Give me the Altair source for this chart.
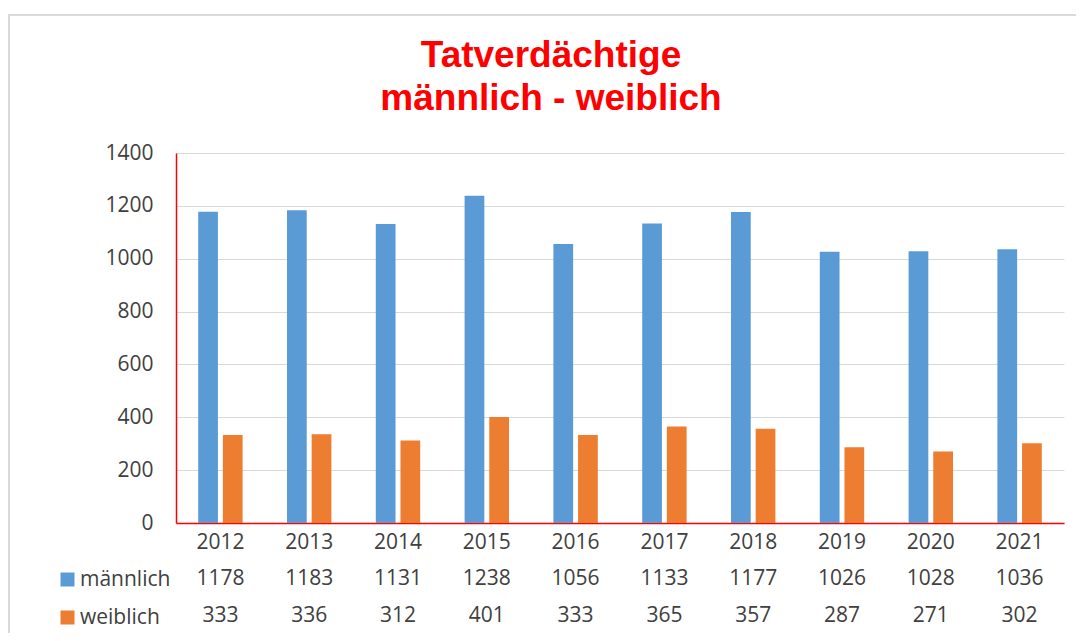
import altair as alt
import pandas as pd

years = ["2012", "2013", "2014", "2015", "2016", "2017", "2018", "2019", "2020", "2021"]
maennlich = [1178, 1183, 1131, 1238, 1056, 1133, 1177, 1026, 1028, 1036]
weiblich = [333, 336, 312, 401, 333, 365, 357, 287, 271, 302]
series = ["männlich", "weiblich"]
colors = ["#5B9BD5", "#ED7D31"]
y_ticks = [0, 200, 400, 600, 800, 1000, 1200, 1400]
title_text = "Tatverdächtige\nmännlich - weiblich"

rows = []
for j, y in enumerate(years):
    rows.append({"Jahr": y, "Geschlecht": "männlich", "Anzahl": maennlich[j]})
    rows.append({"Jahr": y, "Geschlecht": "weiblich", "Anzahl": weiblich[j]})
df = pd.DataFrame(rows)

FONT = "Open Sans"
TXT = "#404040"
FS = 21

xenc = alt.X("Jahr:N", sort=years,
             scale=alt.Scale(paddingInner=0.5, paddingOuter=0.25),
             axis=alt.Axis(title=None, labelAngle=0, ticks=False, tickSize=0,
                           labelPadding=8, labelFontSize=FS, labelFont=FONT,
                           labelColor=TXT, domainColor="#FF0000", domainWidth=1.5,
                           grid=False))

bars = alt.Chart(df).mark_bar().encode(
    x=xenc,
    xOffset=alt.XOffset("Geschlecht:N", sort=series, scale=alt.Scale(paddingInner=0.2)),
    y=alt.Y("Anzahl:Q", scale=alt.Scale(domain=[0, 1400]),
            axis=alt.Axis(title=None, values=y_ticks, format="d", ticks=False, tickSize=0,
                          labelPadding=23, labelFontSize=FS, labelFont=FONT,
                          labelColor=TXT, domainColor="#FF0000", domainWidth=1.5,
                          gridColor="#d9d9d9", gridWidth=1.2)),
    color=alt.Color("Geschlecht:N",
                    scale=alt.Scale(domain=series, range=colors),
                    legend=alt.Legend(title=None, orient="none", legendX=-119, legendY=416,
                                      direction="vertical", symbolType="square",
                                      symbolSize=196, symbolStrokeWidth=0,
                                      labelFontSize=FS, labelFont=FONT, labelColor=TXT,
                                      labelOffset=2, rowPadding=16, padding=0)),
)

row_m = alt.Chart(df).transform_filter(alt.datum.Geschlecht == "männlich").mark_text(
    fontSize=FS, font=FONT, color=TXT, baseline="middle").encode(
    x=alt.X("Jahr:N", sort=years), y=alt.value(426), text="Anzahl:Q")

row_w = alt.Chart(df).transform_filter(alt.datum.Geschlecht == "weiblich").mark_text(
    fontSize=FS, font=FONT, color=TXT, baseline="middle").encode(
    x=alt.X("Jahr:N", sort=years), y=alt.value(463), text="Anzahl:Q")

title = alt.Chart(pd.DataFrame({"t": [title_text]})).mark_text(
    fontSize=37, font="Liberation Sans", fontWeight="bold", color="#FF0000",
    lineBreak="\n", lineHeight=43, align="center", baseline="alphabetic").encode(
    x=alt.value(375), y=alt.value(-86), text="t:N")

frame_df = pd.DataFrame({"k": [0]})
frame_top = alt.Chart(frame_df).mark_rule(color="#d9d9d9", strokeWidth=2).encode(
    x=alt.value(-168), x2=alt.value(900), y=alt.value(-138))
frame_left = alt.Chart(frame_df).mark_rule(color="#d9d9d9", strokeWidth=2).encode(
    x=alt.value(-167), y=alt.value(-138), y2=alt.value(490))

chart = alt.layer(frame_top, frame_left, title, bars, row_m, row_w).properties(
    width=888, height=370,
    autosize=alt.AutoSizeParams(type="none"),
    padding={"left": 168, "top": 145, "right": 12, "bottom": 110},
).configure_view(stroke="transparent")

chart.save("out.html", embed_options={"renderer": "svg", "actions": False})
